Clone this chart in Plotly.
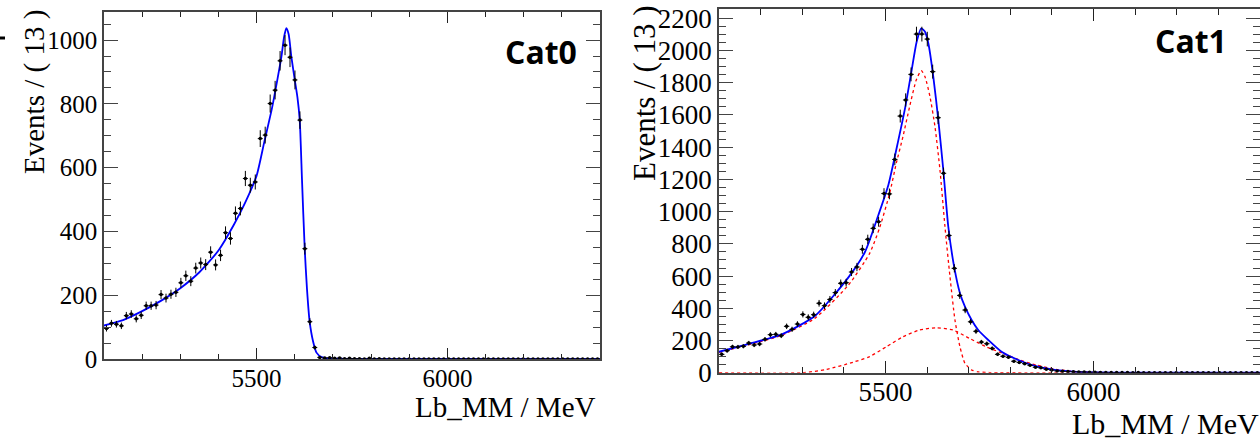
import numpy as np
import plotly.graph_objects as go

# ---------------- data ----------------
bin_width = 13.0
x_lo = 5100.0
n_bins = 100
bin_centers = [x_lo + bin_width * (i + 0.5) for i in range(n_bins)]

cat0_counts = [96, 112, 109, 104, 136, 141, 126, 137, 167, 167,
               169, 202, 191, 203, 209, 239, 261, 244, 285, 301,
               296, 335, 295, 325, 396, 378, 457, 472, 566, 545,
               555, 691, 702, 801, 843, 935, 984, 946, 875, 749,
               346, 117, 36, 5, 3, 4, 2, 3, 1, 2,
               1, 1, 0, 2, 0, 1, 0, 0, 0, 0,
               0, 0, 0, 0, 0, 0, 0, 0, 0, 0,
               0, 0, 0, 0, 0, 0, 0, 0, 0, 0,
               0, 0, 0, 0, 0, 0, 0, 0, 0, 0,
               0, 0, 0, 0, 0, 0, 0, 0, 0, 0]

cat1_counts = [114, 137, 161, 160, 164, 184, 172, 178, 207, 236,
               238, 230, 288, 269, 302, 362, 344, 360, 431, 416,
               455, 497, 555, 559, 625, 656, 766, 828, 896, 937,
               1112, 1110, 1324, 1593, 1693, 1852, 2102, 2102, 2071, 1869,
               1583, 1238, 852, 648, 480, 389, 316, 257, 190, 180,
               151, 114, 102, 96, 71, 64, 56, 46, 34, 30,
               21, 16, 11, 9, 7, 6, 5, 4, 3, 3,
               2, 2, 1, 1, 1, 1, 0, 1, 0, 0,
               0, 0, 0, 0, 0, 0, 0, 0, 0, 0,
               0, 0, 0, 0, 0, 0, 0, 0, 0, 0]

# fit curve read-off points
cat0_fit_x = [5100, 5150, 5200, 5250, 5300, 5350, 5400, 5440, 5470, 5500,
              5520, 5540, 5555, 5565, 5572, 5578, 5584, 5591, 5600, 5607,
              5613, 5619, 5626, 5632, 5639, 5648, 5657, 5670, 5685, 5700,
              5750, 6400]
cat0_fit_y = [105, 122, 150, 183, 222, 272, 340, 420, 490, 575,
              680, 785, 880, 948, 1010, 1037, 1018, 948, 875, 820,
              749, 560, 347, 220, 117, 55, 20, 6, 2, 1,
              0.5, 0.5]

cat1_tot_x = [5100, 5170, 5251, 5331, 5411, 5451, 5483, 5507, 5531, 5547,
              5563, 5575, 5586, 5595, 5603, 5615, 5627, 5639, 5651, 5665,
              5679, 5691, 5707, 5723, 5747, 5779, 5819, 5859, 5907, 5960,
              6050, 6400]
cat1_tot_y = [130, 178, 238, 354, 592, 751, 979, 1165, 1444, 1641,
              1879, 2055, 2138, 2117, 2045, 1837, 1569, 1258, 906, 658,
              493, 410, 327, 265, 203, 130, 79, 42, 17, 5,
              1, 0]

cat1_sig_x = [5100, 5170, 5250, 5330, 5411, 5462, 5486, 5510, 5526, 5542,
              5558, 5574, 5586, 5595, 5607, 5619, 5631, 5643, 5655, 5667,
              5679, 5691, 5707, 5723, 5750, 6400]
cat1_sig_y = [126, 172, 232, 337, 544, 741, 900, 1113, 1300, 1465,
              1651, 1817, 1875, 1837, 1713, 1527, 1258, 906, 596, 327,
              161, 58, 17, 5, 1, 0]

cat1_wide_x = [5100, 5300, 5358, 5422, 5462, 5502, 5542, 5582, 5622, 5662,
               5702, 5742, 5782, 5822, 5862, 5910, 5960, 6020, 6400]
cat1_wide_y = [0, 0, 20, 65, 100, 161, 223, 265, 279, 265,
               213, 161, 120, 79, 48, 21, 6, 1, 0]

# ---------------- figure ----------------
W, H = 1260, 439
fig = go.Figure()

def data_trace(counts, xa, ya):
    return go.Scatter(
        x=bin_centers, y=counts, mode="markers", xaxis=xa, yaxis=ya,
        marker=dict(color="black", size=3.5),
        error_y=dict(type="data", array=list(np.sqrt(counts)), color="black",
                     thickness=1, width=0),
        error_x=dict(type="constant", value=bin_width / 2, color="black",
                     thickness=1, width=0),
        showlegend=False, hoverinfo="skip")

# left panel
fig.add_trace(go.Scatter(x=cat0_fit_x, y=cat0_fit_y, mode="lines", xaxis="x", yaxis="y",
                         line=dict(color="#0000ff", width=1.8, shape="spline", smoothing=0.6),
                         showlegend=False, hoverinfo="skip"))
fig.add_trace(data_trace(cat0_counts, "x", "y"))

# right panel
fig.add_trace(go.Scatter(x=cat1_sig_x, y=cat1_sig_y, mode="lines", xaxis="x2", yaxis="y2",
                         line=dict(color="#ff0000", width=1.3, dash="dot", shape="spline", smoothing=0.6),
                         showlegend=False, hoverinfo="skip"))
fig.add_trace(go.Scatter(x=cat1_wide_x, y=cat1_wide_y, mode="lines", xaxis="x2", yaxis="y2",
                         line=dict(color="#ff0000", width=1.3, dash="dot", shape="spline", smoothing=0.6),
                         showlegend=False, hoverinfo="skip"))
fig.add_trace(go.Scatter(x=cat1_tot_x, y=cat1_tot_y, mode="lines", xaxis="x2", yaxis="y2",
                         line=dict(color="#0000ff", width=1.8, shape="spline", smoothing=0.6),
                         showlegend=False, hoverinfo="skip"))
fig.add_trace(data_trace(cat1_counts, "x2", "y2"))

serif = "Liberation Serif"
axcol = "#444444"

def xaxis(domain, anchor, fsize, tlen, standoff):
    return dict(domain=domain, anchor=anchor, range=[5100, 6400], automargin=False,
                tickvals=[5500, 6000], ticktext=["5500", "6000"],
                ticks="inside", ticklen=tlen, tickwidth=1.2, tickcolor="#222",
                ticklabelstandoff=standoff,
                minor=dict(dtick=100, tick0=5100, ticks="inside", ticklen=tlen / 2,
                           tickwidth=1.2, tickcolor="#222"),
                showline=True, linecolor=axcol, linewidth=1.5, mirror="ticks",
                showgrid=False, zeroline=False,
                tickfont=dict(family=serif, size=fsize, color="black"))

def yaxis(domain, anchor, rng, fsize):
    return dict(domain=domain, anchor=anchor, range=rng, dtick=200, automargin=False,
                ticks="inside", ticklen=14, tickwidth=1.2, tickcolor=axcol,
                minor=dict(dtick=50, ticks="inside", ticklen=7, tickwidth=1.2, tickcolor=axcol),
                showline=True, linecolor=axcol, linewidth=1.5, mirror="ticks",
                showgrid=False, zeroline=False,
                tickfont=dict(family=serif, size=fsize, color="black"))

fig.update_layout(
    width=W, height=H, margin=dict(l=0, r=0, t=0, b=0, autoexpand=False),
    paper_bgcolor="white", plot_bgcolor="white",
    xaxis=xaxis([104 / W, 600 / W], "y", 25, 11, -4),
    yaxis=yaxis([(H - 359) / H, (H - 12) / H], "x", [0, 1088], 25),
    xaxis2=xaxis([719 / W, 1260 / W], "y2", 27, 12, -6),
    yaxis2=yaxis([(H - 372.7) / H, (H - 9.3) / H], "x2", [0, 2256], 27),
)

def ann(text, x, y, size, angle=0, xanchor="center", font=serif, bold=False):
    fig.add_annotation(text=("<b>%s</b>" % text) if bold else text,
                       x=x / W, y=1 - y / H, xref="paper", yref="paper",
                       showarrow=False, textangle=angle, xanchor=xanchor, yanchor="middle",
                       font=dict(family=font, size=size, color="black"))

ann("Events / ( 13 )", 34, 92, 29, angle=-90)
ann("Lb_MM / MeV", 598, 407, 29, xanchor="right")
ann("Cat0", 541, 51, 32, font="Open Sans", bold=True)

ann("Events / ( 13 )", 644, 93, 31, angle=-90)
ann("Lb_MM / MeV", 1070, 423, 30, xanchor="left")
ann("Cat1", 1191, 40, 32, font="Open Sans", bold=True)

# small dash at the top-left edge of the image
fig.add_shape(type="line", xref="paper", yref="paper",
              x0=0, x1=5 / W, y0=1 - 38 / H, y1=1 - 38 / H,
              line=dict(color="black", width=3))

fig.write_html("out.html")
